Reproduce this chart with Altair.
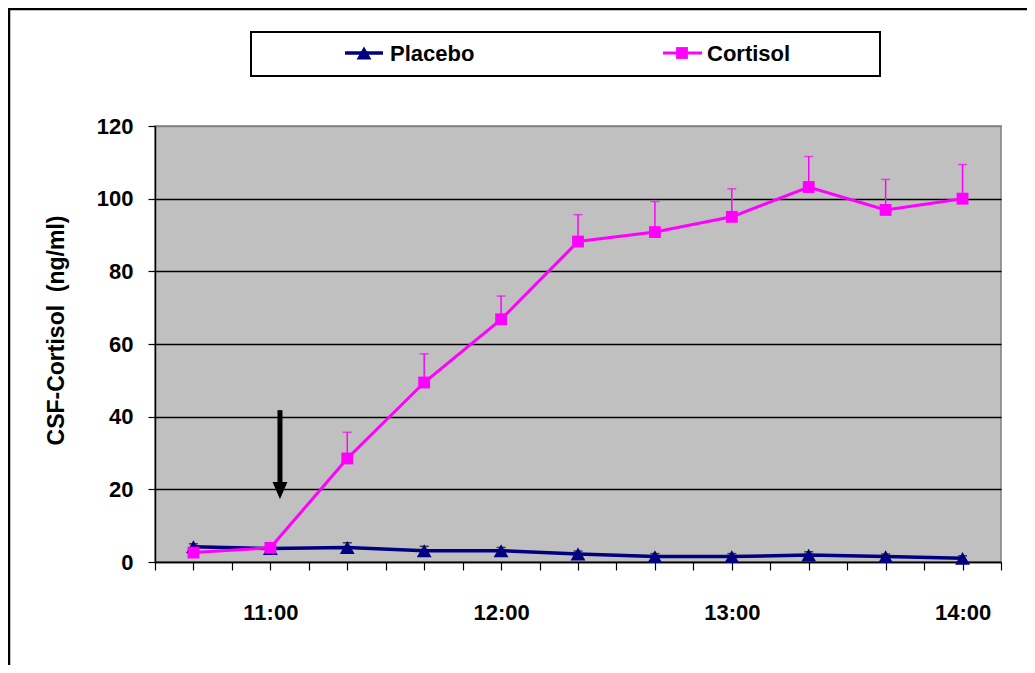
import altair as alt
import pandas as pd

# minutes since midnight (10:40 ... 14:00, every 20 min)
times = [640, 660, 680, 700, 720, 740, 760, 780, 800, 820, 840]
placebo_mean = [4.2, 3.7, 4.0, 3.1, 3.1, 2.2, 1.5, 1.5, 1.9, 1.5, 1.0]
placebo_err_top = [5.0, 4.5, 5.3, 4.3, 4.0, 3.0, 2.3, 2.3, 2.8, 2.2, 1.7]
cortisol_mean = [2.6, 3.9, 28.5, 49.4, 66.8, 88.2, 90.8, 95.0, 103.2, 96.9, 100.0]
cortisol_err_top = [3.2, 4.5, 35.7, 57.3, 73.2, 95.6, 99.2, 102.7, 111.6, 105.3, 109.4]

x_ticks = list(range(630, 851, 10))
y_ticks = [0, 20, 40, 60, 80, 100, 120]

series_names = ["Placebo", "Cortisol"]
series_colors = ["#000080", "#FF00FF"]

arrow_x = [662.5]
arrow_top = [41.8]
arrow_shaft_end = [21.5]
arrow_head_y = [19.7]

FONT = "Liberation Sans"

df = pd.DataFrame({
    "t": times,
    "pm": placebo_mean,
    "pe": placebo_err_top,
    "cm": cortisol_mean,
    "ce": cortisol_err_top,
})
arrow_df = pd.DataFrame({"t": arrow_x, "pm": arrow_top, "pe": arrow_shaft_end, "cm": arrow_head_y})
one = pd.DataFrame({"k": [0]})

X = alt.X(
    "t:Q",
    scale=alt.Scale(domain=[630, 850], nice=False, zero=False),
    axis=alt.Axis(
        values=x_ticks,
        labelExpr="(datum.value % 60 == 0) ? (floor(datum.value / 60) + ':00') : ''",
        title=None,
        grid=False,
        domainColor="black",
        domainWidth=1.5,
        tickColor="black",
        tickWidth=1.2,
        tickSize=8,
        labelPadding=32,
        labelBaseline="top",
        labelFont=FONT,
        labelFontSize=22,
        labelFontWeight="bold",
        labelColor="black",
        labelOverlap=False,
        labelFlush=False,
    ),
)


def Y(field):
    return alt.Y(
        field,
        scale=alt.Scale(domain=[0, 120], nice=False),
        axis=alt.Axis(
            values=y_ticks,
            title="CSF-Cortisol\u00a0 (ng/ml)",
            titleFont=FONT,
            titleFontSize=23,
            titleFontWeight="bold",
            titleColor="black",
            titleAngle=-90,
            titleAlign="center",
            titleBaseline="middle",
            titleX=-99,
            titleY=204,
            grid=True,
            gridColor={"condition": {"test": "datum.value == 120", "value": "#808080"}, "value": "black"},
            gridWidth=1.5,
            domainColor="black",
            domainWidth=1.5,
            tickColor="black",
            tickWidth=1.2,
            tickSize=7,
            labelPadding=15,
            labelFont=FONT,
            labelFontSize=22,
            labelFontWeight="bold",
            labelColor="black",
        ),
    )


base = alt.Chart(df)

p_err = base.mark_rule(color="black", strokeWidth=1.5).encode(x=X, y=Y("pm:Q"), y2="pe:Q")
p_cap = base.mark_tick(color="black", orient="horizontal", size=9, thickness=1.5).encode(x=X, y=Y("pe:Q"))
p_line = base.mark_line(color=series_colors[0], strokeWidth=3.5).encode(x=X, y=Y("pm:Q"))
p_pts = base.mark_point(shape="triangle-up", filled=True, opacity=1, size=220,
                        color=series_colors[0]).encode(x=X, y=Y("pm:Q"))

c_err = base.mark_rule(color=series_colors[1], strokeWidth=1.5).encode(x=X, y=Y("cm:Q"), y2="ce:Q")
c_cap = base.mark_tick(color=series_colors[1], orient="horizontal", size=9, thickness=1.5).encode(x=X, y=Y("ce:Q"))
c_line = base.mark_line(color=series_colors[1], strokeWidth=3).encode(x=X, y=Y("cm:Q"))
c_pts = base.mark_point(shape="square", filled=True, opacity=1, size=140,
                        color=series_colors[1]).encode(x=X, y=Y("cm:Q"))

arrow_shaft = alt.Chart(arrow_df).mark_rule(color="black", strokeWidth=5).encode(
    x=X, y=Y("pm:Q"), y2="pe:Q"
)
arrow_head = alt.Chart(arrow_df).mark_point(
    shape="M-0.88,-1L0.88,-1L0,1Z", filled=True, opacity=1, size=289, color="black"
).encode(x=X, y=Y("cm:Q"))

# legend (drawn manually, pixel positions relative to the plot area)
leg_box = alt.Chart(one).mark_rect(fill="white", stroke="black", strokeWidth=2).encode(
    x=alt.value(96), x2=alt.value(725), y=alt.value(-94), y2=alt.value(-50)
)
leg_p_line = alt.Chart(one).mark_rule(color=series_colors[0], strokeWidth=3.5).encode(
    x=alt.value(190), x2=alt.value(228), y=alt.value(-73)
)
leg_p_sym = alt.Chart(one).mark_point(shape="triangle-up", filled=True, opacity=1, size=220,
                                      color=series_colors[0]).encode(x=alt.value(209), y=alt.value(-73))
leg_p_txt = alt.Chart(one).mark_text(align="left", baseline="middle", font=FONT, fontSize=22,
                                     fontWeight="bold", color="black").encode(
    x=alt.value(235), y=alt.value(-72), text=alt.value(series_names[0])
)
leg_c_line = alt.Chart(one).mark_rule(color=series_colors[1], strokeWidth=3).encode(
    x=alt.value(508), x2=alt.value(547), y=alt.value(-73)
)
leg_c_sym = alt.Chart(one).mark_point(shape="square", filled=True, opacity=1, size=140,
                                      color=series_colors[1]).encode(x=alt.value(527), y=alt.value(-73))
leg_c_txt = alt.Chart(one).mark_text(align="left", baseline="middle", font=FONT, fontSize=22,
                                     fontWeight="bold", color="black").encode(
    x=alt.value(552), y=alt.value(-72), text=alt.value(series_names[1])
)

# outer frame (top and left edges)
frame_top = alt.Chart(one).mark_rule(color="black", strokeWidth=2.5).encode(
    x=alt.value(-147), x2=alt.value(880), y=alt.value(-117)
)
frame_left = alt.Chart(one).mark_rule(color="black", strokeWidth=2.5).encode(
    x=alt.value(-146), y=alt.value(-118), y2=alt.value(560)
)

chart = alt.layer(
    p_err, p_cap, p_line, p_pts,
    c_err, c_cap, c_line, c_pts,
    arrow_shaft, arrow_head,
    leg_box, leg_p_line, leg_p_sym, leg_p_txt, leg_c_line, leg_c_sym, leg_c_txt,
    frame_top, frame_left,
).properties(
    width=846,
    height=436,
    autosize=alt.AutoSizeParams(type="none"),
    padding={"left": 147, "top": 118, "right": 26, "bottom": 103},
    background="white",
).configure_view(
    fill="#C0C0C0", stroke="#808080", strokeWidth=1.5
)

chart.save("out.html", embed_options={"renderer": "svg", "actions": False})
